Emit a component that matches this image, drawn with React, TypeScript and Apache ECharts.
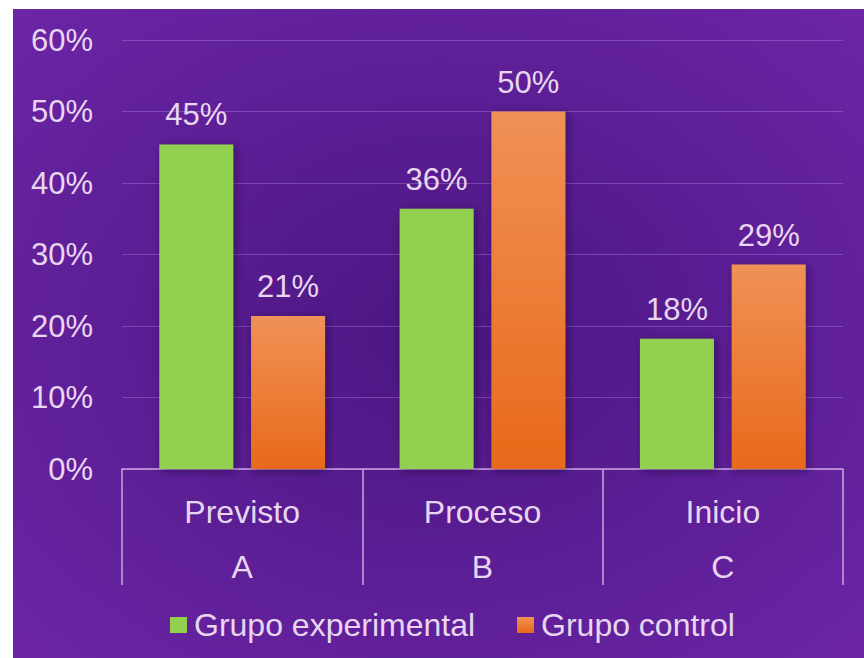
import React, { useEffect, useRef } from "react";
import * as echarts from "echarts";

const categories = ["Previsto", "Proceso", "Inicio"];
const subCategories = ["A", "B", "C"];
const experimental = [45.4, 36.4, 18.2];
const control = [21.4, 50, 28.6];
const seriesNames = ["Grupo experimental", "Grupo control"];
const yTicks = { min: 0, max: 60, interval: 10 };

const TEXT = "#e8d6f0";
const FONT = "'Liberation Sans', Arial, sans-serif";

export default function App() {
  const ref = useRef<HTMLDivElement>(null);
  useEffect(() => {
    const chart = echarts.init(ref.current!, null, { renderer: "svg" });
    const shadow = {
      shadowBlur: 8,
      shadowColor: "rgba(20,0,40,0.45)",
      shadowOffsetX: 2,
      shadowOffsetY: 2,
    };
    const label = {
      show: true,
      position: "top" as const,
      distance: 14,
      color: TEXT,
      fontSize: 31,
      fontFamily: FONT,
      formatter: (p: any) => Math.round(p.value) + "%",
    };
    chart.setOption({
      animation: false,
      backgroundColor: new echarts.graphic.RadialGradient(0.5, 0.5, 0.75, [
        { offset: 0, color: "#4a1682" },
        { offset: 1, color: "#6e26a8" },
      ]),
      textStyle: { fontFamily: FONT },
      grid: { left: 109, right: 21, top: 31, bottom: 189, containLabel: false },
      legend: {
        bottom: 12,
        left: 152,
        itemWidth: 17,
        itemHeight: 16,
        itemGap: 42,
        icon: "rect",
        textStyle: { color: TEXT, fontSize: 32, fontFamily: FONT, padding: [0, 0, 0, 2] },
        data: seriesNames,
      },
      xAxis: {
        type: "category",
        data: categories,
        axisLine: { show: true, lineStyle: { color: "#c9a6e2", width: 1.5 } },
        axisTick: {
          show: true,
          interval: 0,
          length: 116,
          lineStyle: { color: "#c9a6e2", width: 1.5 },
        },
        axisLabel: {
          interval: 0,
          color: TEXT,
          fontSize: 32,
          fontFamily: FONT,
          lineHeight: 55,
          margin: 15,
          formatter: (v: string, i: number) => v + "\n" + subCategories[i],
        },
      },
      yAxis: {
        type: "value",
        min: yTicks.min,
        max: yTicks.max,
        interval: yTicks.interval,
        axisLine: { show: false },
        axisTick: { show: false },
        axisLabel: {
          color: TEXT,
          fontSize: 31,
          fontFamily: FONT,
          margin: 29,
          formatter: "{value}%",
        },
        splitLine: { lineStyle: { color: "rgba(170,120,215,0.45)", width: 1 } },
      },
      series: [
        {
          name: seriesNames[0],
          type: "bar",
          data: experimental,
          barWidth: 74,
          barGap: "24%",
          itemStyle: { color: "#92d050", ...shadow },
          label,
        },
        {
          name: seriesNames[1],
          type: "bar",
          data: control,
          barWidth: 74,
          itemStyle: {
            color: new echarts.graphic.LinearGradient(0, 0, 0, 1, [
              { offset: 0, color: "#f09156" },
              { offset: 1, color: "#e8691a" },
            ]),
            ...shadow,
          },
          label,
        },
      ],
    });
    return () => chart.dispose();
  }, []);
  return (
    <div
      ref={ref}
      style={{ position: "absolute", left: 13, top: 9, width: 851, height: 649 }}
    />
  );
}
